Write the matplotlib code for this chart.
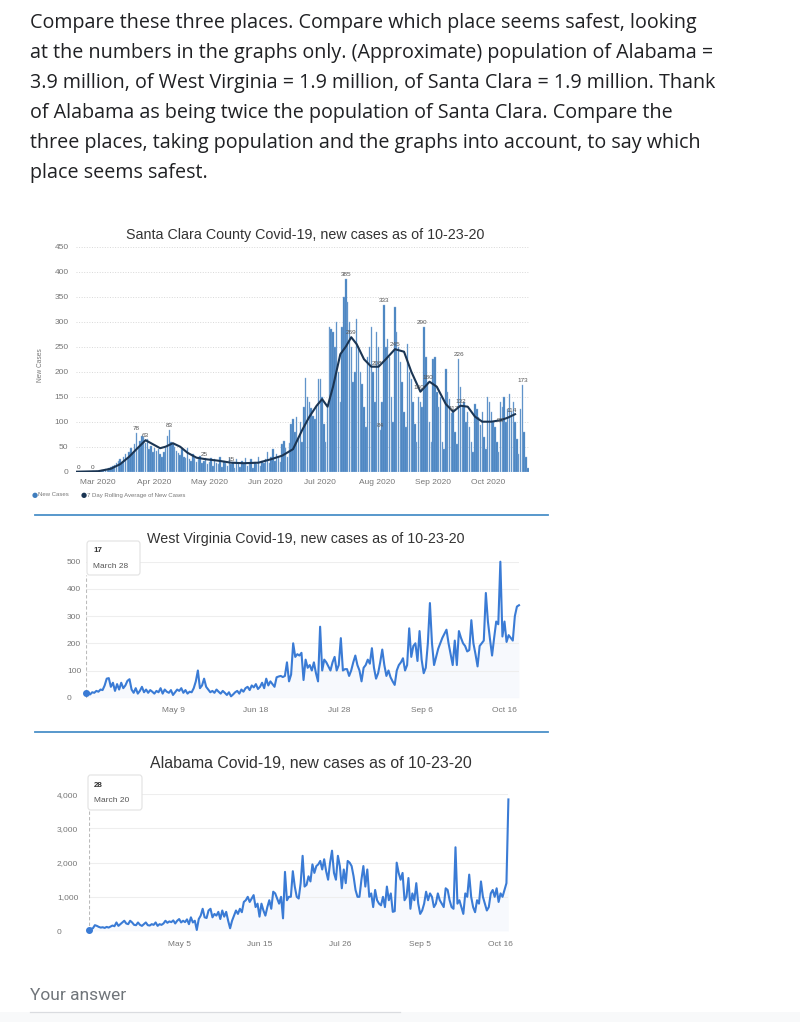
import matplotlib
matplotlib.use("Agg")
import matplotlib.pyplot as plt
import matplotlib.dates as mdates
import pandas as pd
from matplotlib.lines import Line2D
from matplotlib.patches import FancyBboxPatch, Rectangle

# ── LIENZO (coordenadas en píxeles, origen arriba-izquierda) ─────
W, H = 800, 1022

def fx(x):
    return x / W

def fy(y):
    return 1 - y / H

def add_ax(fig, x0, y_top, x1, y_bot):
    return fig.add_axes([fx(x0), fy(y_bot), (x1 - x0) / W, (y_bot - y_top) / H])

# ── TEXTO DE LA PREGUNTA ─────────────────────────────────────────
question_lines = [
    "Compare these three places. Compare which place seems safest, looking",
    "at the numbers in the graphs only. (Approximate) population of Alabama =",
    "3.9 million, of West Virginia = 1.9 million, of Santa Clara = 1.9 million. Thank",
    "of Alabama as being twice the population of Santa Clara. Compare the",
    "three places, taking population and the graphs into account, to say which",
    "place seems safest.",
]

# ── SANTA CLARA: casos diarios (18 feb - 23 oct) ─────────────────
sc_start = "2020-02-18"
sc_feb = [0, 0, 0, 0, 0, 0, 0, 0, 0, 1, 0, 1]
sc_mar = [2, 1, 3, 4, 6, 5, 8, 10, 12, 14, 18, 22, 26, 20, 30, 35, 28, 40, 48, 38,
          55, 78, 50, 62, 72, 70, 58, 65, 45, 52, 40]
sc_apr = [48, 42, 45, 35, 30, 40, 47, 72, 83, 60, 55, 50, 42, 38, 33, 45, 30, 28, 48, 25,
          22, 35, 28, 20, 25, 32, 18, 22, 28, 15]
sc_may = [20, 28, 12, 25, 18, 15, 30, 10, 22, 18, 12, 28, 15, 20, 8, 25, 18, 10, 22, 15,
          28, 12, 18, 25, 8, 20, 15, 30, 12, 22, 18]
sc_jun = [25, 40, 18, 30, 45, 22, 35, 28, 20, 55, 62, 48, 30, 58, 95, 105, 80, 110, 70, 100,
          60, 130, 188, 150, 140, 128, 112, 105, 130, 185]
sc_jul = [185, 150, 95, 60, 130, 290, 285, 280, 250, 300, 200, 140, 290, 350, 385, 340, 300,
          250, 180, 200, 305, 250, 200, 175, 130, 90, 230, 250, 290, 200, 140]
sc_aug = [280, 250, 84, 140, 333, 250, 265, 230, 150, 100, 330, 280, 250, 220, 180, 120, 90,
          255, 200, 185, 140, 95, 60, 150, 140, 130, 290, 230, 180, 100, 60]
sc_sep = [225, 230, 160, 130, 150, 60, 45, 205, 160, 145, 117, 120, 80, 55, 226, 170, 130,
          140, 100, 120, 90, 60, 40, 135, 125, 110, 93, 120, 70, 45]
sc_oct = [150, 140, 120, 100, 90, 60, 40, 140, 130, 150, 100, 125, 155, 120, 140, 100, 65,
          35, 125, 173, 80, 30, 8]
sc_cases = sc_feb + sc_mar + sc_apr + sc_may + sc_jun + sc_jul + sc_aug + sc_sep + sc_oct

sc_avg_dates = ["2020-02-18", "2020-03-01", "2020-03-08", "2020-03-13", "2020-03-18",
                "2020-03-22", "2020-03-27", "2020-03-31", "2020-04-04", "2020-04-07",
                "2020-04-11", "2020-04-15", "2020-04-19", "2020-04-24", "2020-04-29",
                "2020-05-06", "2020-05-13", "2020-05-20", "2020-05-28", "2020-06-04",
                "2020-06-10", "2020-06-16", "2020-06-21", "2020-06-25", "2020-06-29",
                "2020-07-02", "2020-07-05", "2020-07-08", "2020-07-12", "2020-07-15",
                "2020-07-18", "2020-07-21", "2020-07-25", "2020-07-29", "2020-08-02",
                "2020-08-06", "2020-08-11", "2020-08-16", "2020-08-20", "2020-08-25",
                "2020-08-30", "2020-09-03", "2020-09-08", "2020-09-12", "2020-09-16",
                "2020-09-20", "2020-09-24", "2020-09-28", "2020-10-03", "2020-10-08",
                "2020-10-12", "2020-10-16"]
sc_avg_vals = [0, 1, 6, 15, 30, 45, 63, 55, 47, 50, 57, 50, 38, 28, 25, 22, 18, 17, 18, 25,
               32, 45, 83, 110, 132, 145, 130, 170, 235, 250, 269, 255, 225, 210, 210, 225,
               245, 240, 200, 160, 180, 170, 135, 120, 132, 130, 110, 100, 100, 103, 108, 115]

# etiquetas numéricas visibles sobre el gráfico
sc_label_dates = ["2020-02-19", "2020-02-27", "2020-03-22", "2020-03-27", "2020-04-09",
                  "2020-04-28", "2020-05-13", "2020-07-15", "2020-07-18", "2020-08-05",
                  "2020-08-11", "2020-08-01", "2020-08-03", "2020-08-26", "2020-08-29",
                  "2020-08-24", "2020-09-15", "2020-09-16", "2020-09-12", "2020-10-08",
                  "2020-10-14", "2020-10-20"]
sc_label_vals = [0, 0, 78, 63, 83, 25, 15, 385, 269, 333, 245, 208, 84, 290, 180, 160,
                 226, 132, 117, 93, 114, 173]

sc_yticks = [0, 50, 100, 150, 200, 250, 300, 350, 400, 450]
sc_month_ticks = ["2020-03-01", "2020-04-01", "2020-05-01", "2020-06-01",
                  "2020-07-01", "2020-08-01", "2020-09-01", "2020-10-01"]

# ── WEST VIRGINIA: casos diarios (28 mar - 23 oct) ───────────────
wv_start = "2020-03-28"
wv_mar = [17, 22, 12, 20]
wv_apr = [18, 25, 22, 30, 28, 45, 70, 72, 40, 55, 25, 50, 30, 55, 35, 45, 62, 68, 30, 18,
          35, 15, 25, 40, 20, 30, 18, 28, 22, 15]
wv_may = [25, 20, 35, 15, 30, 22, 18, 28, 10, 20, 30, 25, 35, 18, 28, 15, 22, 20, 35, 60,
          100, 35, 45, 70, 40, 30, 20, 25, 18, 30, 22]
wv_jun = [15, 25, 18, 10, 20, 5, 12, 20, 25, 15, 30, 22, 35, 40, 28, 45, 38, 50, 32, 40,
          55, 35, 70, 45, 60, 50, 40, 75, 78, 80]
wv_jul = [76, 80, 130, 60, 85, 200, 150, 160, 155, 165, 65, 140, 110, 120, 100, 130, 90, 60,
          261, 100, 140, 130, 115, 100, 130, 150, 100, 120, 219, 100, 105]
wv_aug = [105, 80, 100, 130, 155, 120, 100, 60, 110, 120, 140, 125, 182, 110, 70, 90, 130,
          177, 120, 80, 100, 75, 60, 47, 100, 120, 130, 145, 100, 120, 255]
wv_sep = [150, 190, 200, 135, 245, 140, 90, 110, 200, 348, 200, 120, 150, 180, 200, 220,
          235, 250, 200, 160, 120, 210, 120, 245, 220, 200, 190, 170, 175, 285]
wv_oct = [200, 160, 115, 190, 200, 210, 385, 280, 215, 155, 220, 280, 270, 500, 225, 280,
          205, 230, 220, 210, 300, 335, 340]
wv_cases = wv_mar + wv_apr + wv_may + wv_jun + wv_jul + wv_aug + wv_sep + wv_oct
wv_ticks = ["2020-05-09", "2020-06-18", "2020-07-28", "2020-09-06", "2020-10-16"]
wv_tick_labels = ["May 9", "Jun 18", "Jul 28", "Sep 6", "Oct 16"]
wv_yticks = [0, 100, 200, 300, 400, 500]

# ── ALABAMA: casos diarios (20 mar - 20 oct) ─────────────────────
al_start = "2020-03-20"
al_mar = [28, 60, 80, 170, 150, 120, 100, 110, 90, 120, 100, 130]
al_apr = [160, 140, 250, 150, 200, 250, 300, 220, 200, 300, 250, 180, 170, 250, 180, 150,
          200, 250, 170, 160, 200, 180, 250, 150, 200, 180, 220, 300, 240, 280]
al_may = [260, 310, 220, 300, 350, 250, 300, 260, 340, 200, 400, 250, 300, 30, 350, 450,
          650, 400, 380, 600, 650, 400, 500, 450, 560, 350, 600, 420, 560, 300, 80]
al_jun = [300, 450, 600, 500, 650, 550, 850, 900, 1000, 850, 950, 1050, 700, 800, 420, 800,
          600, 450, 700, 900, 650, 1150, 1100, 950, 800, 1000, 370, 1730, 900, 1000]
al_jul = [1000, 1750, 1300, 1000, 950, 1400, 2200, 1300, 1350, 1600, 1450, 1950, 1700, 1900,
          1950, 2050, 1800, 2100, 1750, 1500, 2000, 2350, 1700, 1500, 2200, 1900, 1250, 1800,
          1400, 2050, 2000]
al_aug = [1900, 1600, 1200, 1000, 1000, 1500, 1900, 1300, 1800, 1000, 1100, 700, 1200, 900,
          800, 750, 1000, 700, 1300, 900, 1100, 560, 580, 2000, 1700, 1500, 1700, 900, 1000,
          1550, 650]
al_sep = [1100, 900, 1400, 800, 500, 600, 800, 1150, 900, 1100, 1000, 700, 800, 1100, 900,
          800, 700, 1250, 1200, 900, 700, 650, 2450, 800, 900, 700, 500, 1100, 1000, 1650]
al_oct = [1000, 700, 550, 900, 800, 1450, 1000, 800, 600, 700, 1100, 1200, 1000, 1250, 850,
          1100, 1000, 1200, 1400, 3850]
al_cases = al_mar + al_apr + al_may + al_jun + al_jul + al_aug + al_sep + al_oct
al_ticks = ["2020-05-05", "2020-06-15", "2020-07-26", "2020-09-05", "2020-10-16"]
al_tick_labels = ["May 5", "Jun 15", "Jul 26", "Sep 5", "Oct 16"]
al_yticks = [0, 1000, 2000, 3000, 4000]

# ── ESTILO ──────────────────────────────────────────────────────
CHART_FONT = "Liberation Sans"
GRAY = "#777777"
LINE_BLUE = "#3a7bd5"

fig = plt.figure(figsize=(W / 100, H / 100), dpi=100)
fig.patch.set_facecolor("white")

# párrafo
for i, line in enumerate(question_lines):
    fig.text(fx(30), fy(28 + 30 * i), line, fontsize=14.2, family="Open Sans",
             color="#202124", va="baseline", ha="left")

# ── GRÁFICO 1: SANTA CLARA (barras + promedio) ─────────────────
sc_dates = pd.date_range(sc_start, periods=len(sc_cases), freq="D")
ax1 = add_ax(fig, 75.5, 246.7, 528.7, 471.7)
ax1.bar(sc_dates, sc_cases, width=0.8, color="#3f7dbd", edgecolor="#8fb3dc",
        linewidth=0.3, zorder=2)
ax1.plot(pd.to_datetime(sc_avg_dates), sc_avg_vals, color="#1b3553", lw=1.5, zorder=3)
for d, v in zip(sc_label_dates, sc_label_vals):
    ax1.text(pd.Timestamp(d), v + 4, str(v), fontsize=4.6, family=CHART_FONT,
             color="#555555", ha="center", va="bottom", zorder=4)
ax1.set_xlim(pd.Timestamp("2020-02-17 12:00"), pd.Timestamp("2020-10-23 12:00"))
ax1.set_ylim(0, 450)
ax1.set_yticks(sc_yticks)
ax1.set_xticks(pd.to_datetime(sc_month_ticks))
ax1.xaxis.set_major_formatter(mdates.DateFormatter("%b %Y"))
ax1.grid(axis="y", color="#d8d8d8", linestyle=":", linewidth=0.7, zorder=0)
ax1.tick_params(length=0, labelsize=6, labelcolor=GRAY, pad=5)
for lbl in ax1.get_xticklabels() + ax1.get_yticklabels():
    lbl.set_family(CHART_FONT)
for s in ax1.spines.values():
    s.set_visible(False)
fig.text(fx(41), fy(365), "New Cases", rotation=90, fontsize=4.8, family=CHART_FONT,
         color=GRAY, ha="center", va="center")
fig.text(fx(305), fy(235), "Santa Clara County Covid-19, new cases as of 10-23-20",
         fontsize=10.3, family=CHART_FONT, color="#333333", ha="center", va="center")
# leyenda
fig.text(fx(32), fy(495), "\u25cf", fontsize=5, color="#3f7dbd", va="center")
fig.text(fx(38), fy(495), "New Cases", fontsize=4.3, family=CHART_FONT, color=GRAY,
         va="center")
fig.text(fx(81), fy(495), "\u25cf", fontsize=5, color="#1b3553", va="center")
fig.text(fx(87), fy(495), "7 Day Rolling Average of New Cases", fontsize=4.3,
         family=CHART_FONT, color=GRAY, va="center")

# separadores azules
for ysep in (515, 732):
    fig.add_artist(Line2D([fx(35), fx(548)], [fy(ysep), fy(ysep)], color="#4a90c8",
                          lw=1.3, transform=fig.transFigure))


def line_chart(ax, dates, values, yticks, ylim, ticks, tick_labels, label_left, fmt):
    ax.fill_between(dates, values, color=LINE_BLUE, alpha=0.04, lw=0, zorder=1)
    ax.plot(dates, values, color=LINE_BLUE, lw=1.5, zorder=3, clip_on=False)
    ax.plot(dates[0], values[0], "o", color=LINE_BLUE, ms=4, zorder=4, clip_on=False)
    ax.axvline(dates[0], ymin=0, ymax=0.9, color="#bbbbbb", lw=0.8, ls=(0, (3, 2)),
               zorder=2)
    ax.set_xlim(dates[0], dates[-1])
    ax.set_ylim(*ylim)
    ax.set_yticks(yticks)
    ax.set_yticklabels([fmt.format(v) for v in yticks])
    ax.set_xticks(pd.to_datetime(ticks))
    ax.set_xticklabels(tick_labels)
    ax.grid(axis="y", color="#eeeeee", lw=0.8, zorder=0)
    ax.tick_params(axis="x", length=0, labelsize=6, labelcolor=GRAY, pad=7)
    pad_px = (ax.get_position().x0 * W) - label_left
    ax.tick_params(axis="y", length=0, labelsize=6, labelcolor=GRAY, pad=pad_px * 0.72)
    for lbl in ax.get_yticklabels():
        lbl.set_ha("left")
    for lbl in ax.get_xticklabels() + ax.get_yticklabels():
        lbl.set_family(CHART_FONT)
    for s in ax.spines.values():
        s.set_visible(False)


def tooltip(x0, y0, x1, y1, value, day_text):
    box = FancyBboxPatch((fx(x0), fy(y1)), (x1 - x0) / W, (y1 - y0) / H,
                         boxstyle="round,pad=0,rounding_size=0.003",
                         transform=fig.transFigure, facecolor="white",
                         edgecolor="#e2e2e2", lw=0.8, zorder=5)
    fig.add_artist(box)
    fig.text(fx(x0 + 6), fy(y0 + 10), value, fontsize=5.8, family=CHART_FONT,
             color="#333333", weight="bold", va="center", zorder=6)
    fig.text(fx(x0 + 6), fy(y0 + 25), day_text, fontsize=6, family=CHART_FONT,
             color="#555555", va="center", zorder=6)


# ── GRÁFICO 2: WEST VIRGINIA ───────────────────────────────────
wv_dates = pd.date_range(wv_start, periods=len(wv_cases), freq="D")
ax2 = add_ax(fig, 86, 561.7, 519, 697.7)
line_chart(ax2, wv_dates, wv_cases, wv_yticks, (0, 500), wv_ticks, wv_tick_labels, 67,
           "{:d}")
fig.text(fx(306), fy(539), "West Virginia Covid-19, new cases as of 10-23-20",
         fontsize=10.3, family=CHART_FONT, color="#333333", ha="center", va="center")
tooltip(87, 541, 140, 575, "17", "March 28")

# ── GRÁFICO 3: ALABAMA ─────────────────────────────────────────
al_dates = pd.date_range(al_start, periods=len(al_cases), freq="D")
ax3 = add_ax(fig, 89, 794.3, 508.4, 931)
line_chart(ax3, al_dates, al_cases, al_yticks, (0, 4000), al_ticks, al_tick_labels, 57,
           "{:,d}")
fig.text(fx(311), fy(764), "Alabama Covid-19, new cases as of 10-23-20",
         fontsize=11.4, family=CHART_FONT, color="#333333", ha="center", va="center")
tooltip(88, 775, 142, 810, "28", "March 20")

# ── PIE: CAMPO DE RESPUESTA ─────────────────────────────────────
fig.add_artist(Rectangle((0, 0), 1, fy(1012), transform=fig.transFigure,
                         facecolor="#f8f9fa", edgecolor="none", zorder=0))
fig.text(fx(30), fy(1000), "Your answer", fontsize=12.5, family="Roboto",
         color="#70757a", va="baseline")
fig.add_artist(Line2D([fx(30), fx(400)], [fy(1012), fy(1012)], color="#dadce0", lw=0.9,
                      transform=fig.transFigure))

fig.savefig("out.png", dpi=100, facecolor="white")
